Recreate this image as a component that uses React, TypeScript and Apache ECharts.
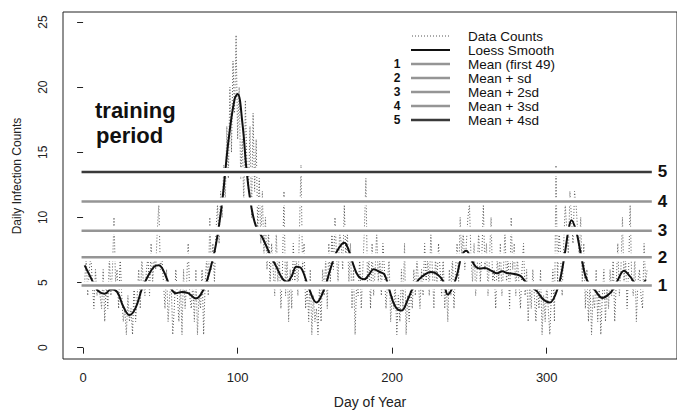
import React, { useEffect, useRef } from "react";
import * as echarts from "echarts";

const FONT = '"Liberation Sans", Arial, Helvetica, sans-serif';

// Daily infection counts, day 1 .. 365
const dailyCounts: number[] = [
  5, 7, 4, 6, 7, 5, 3, 6, 4, 5,
  4, 3, 6, 2, 5, 3, 7, 4, 6, 10,
  5, 6, 3, 7, 4, 2, 3, 1, 4, 2,
  3, 1, 5, 2, 4, 6, 3, 7, 5, 4,
  6, 7, 4, 8, 5, 7, 6, 9, 11, 6,
  7, 5, 3, 6, 2, 4, 5, 1, 3, 6,
  4, 2, 5, 1, 6, 3, 5, 8, 4, 3,
  5, 2, 6, 1, 4, 3, 6, 1, 5, 7,
  4, 10, 6, 8, 5, 9, 11, 8, 12, 10,
  14, 11, 17, 13, 20, 15, 22, 18, 24, 16,
  20, 13, 16, 11, 19, 14, 12, 17, 10, 18,
  12, 16, 9, 13, 8, 12, 7, 10, 6, 9,
  5, 8, 6, 4, 9, 5, 7, 3, 6, 12,
  4, 7, 2, 6, 3, 8, 5, 7, 4, 9,
  14, 6, 8, 3, 5, 2, 6, 1, 4, 2,
  3, 1, 5, 2, 6, 4, 7, 3, 8, 5,
  9, 6, 10, 7, 5, 9, 8, 6, 11, 7,
  9, 5, 8, 3, 6, 1, 5, 4, 7, 3,
  6, 9, 13, 5, 7, 3, 8, 4, 6, 9,
  5, 7, 4, 8, 6, 3, 5, 7, 2, 4,
  3, 5, 1, 4, 2, 6, 3, 8, 1, 4,
  2, 5, 3, 6, 4, 7, 5, 3, 6, 4,
  8, 5, 7, 4, 9, 6, 3, 7, 5, 8,
  6, 4, 7, 3, 5, 2, 6, 4, 7, 3,
  6, 8, 5, 10, 7, 9, 6, 8, 10, 11,
  7, 5, 8, 4, 6, 9, 5, 7, 11, 6,
  8, 4, 7, 10, 5, 6, 3, 7, 5, 8,
  4, 6, 9, 5, 7, 3, 10, 6, 8, 4,
  7, 5, 3, 6, 8, 4, 6, 2, 5, 3,
  6, 4, 2, 5, 3, 6, 1, 4, 2, 5,
  3, 1, 4, 6, 2, 14, 5, 9, 7, 4,
  8, 11, 9, 7, 12, 10, 8, 12, 11, 9,
  7, 10, 5, 8, 3, 6, 2, 5, 1, 4,
  3, 6, 2, 5, 1, 4, 6, 2, 5, 3,
  6, 4, 7, 2, 5, 8, 4, 6, 10, 5,
  7, 3, 6, 11, 5, 4, 7, 2, 5, 6,
  4, 3, 8, 5, 6,
];

// Loess smooth, read at selected days
const loessDays: number[] = [
  1, 4, 7, 10, 14, 18, 22, 26, 30, 34, 38, 42, 46, 49, 52, 56, 60, 64, 68, 73,
  78, 82, 86, 90, 94, 98, 100, 103, 106, 109, 112, 116, 121, 125, 129, 132, 135, 138, 141, 146,
  151, 156, 160, 164, 169, 172, 175, 178, 182, 185, 188, 192, 195, 198, 202, 206, 210, 213, 217, 221,
  225, 229, 233, 236, 239, 242, 245, 248, 251, 254, 257, 260, 264, 268, 271, 275, 279, 283, 286, 290,
  294, 298, 302, 306, 309, 312, 314, 316, 319, 322, 325, 328, 331, 336, 340, 343, 346, 350, 354, 358,
  361, 364,
];
const loessValues: number[] = [
  6.32, 5.61, 4.89, 4.33, 4.13, 4.49, 4.28, 3.16, 2.5, 3.06, 4.49, 5.51, 6.22, 6.32, 5.91, 4.79, 4.18, 4.28, 4.18, 3.77,
  4.49, 5.91, 7.95, 11.22, 15.81, 19.07, 19.48, 17.34, 13.36, 10.71, 9.28, 8.46, 7.14, 6.22, 5.3, 5.05, 5.51, 6.22, 6.12, 4.59,
  3.47, 4.49, 6.02, 7.34, 8.06, 7.44, 6.32, 5.51, 5.25, 5.61, 6.02, 5.81, 5.61, 4.49, 3.16, 2.85, 3.67, 4.49, 5.2, 5.61,
  5.81, 5.66, 5.1, 4.08, 4.59, 5.61, 7.04, 7.44, 6.83, 6.22, 6.07, 6.12, 5.91, 5.71, 5.86, 5.71, 5.66, 5.51, 5.1, 4.69,
  4.28, 3.67, 3.47, 4.18, 5.4, 7.44, 8.97, 9.79, 8.97, 7.24, 5.51, 4.79, 4.44, 3.82, 4.08, 4.49, 5.2, 5.91, 5.45, 4.9,
  4.89, 5.2,
];

// Threshold levels: mean of first 49 days, + 1..4 sd
const levelValues: number[] = [4.78, 6.95, 8.98, 11.23, 13.49];
const levelNumbers: string[] = ["1", "2", "3", "4", "5"];
const levelNames: string[] = ["Mean (first 49)", "Mean + sd", "Mean + 2sd", "Mean + 3sd", "Mean + 4sd"];
const levelStart = -1;
const levelEnd = 368;

const yTicks: number[] = [0, 5, 10, 15, 20, 25];
const xTicks: number[] = [0, 100, 200, 300];

export default function App() {
  const ref = useRef<HTMLDivElement>(null);

  useEffect(() => {
    document.body.style.margin = "0";
    const chart = echarts.init(ref.current!, null, { renderer: "svg" });

    const countPairs = dailyCounts.map((v, i) => [i + 1, v]);
    const loessPairs = loessDays.map((d, i) => [d, loessValues[i]]);

    const levelColor = (i: number) => (i === 4 ? "#3a3a3a" : "#959595");

    const haloSeries = levelValues.map((v) => ({
      type: "line",
      data: [[levelStart, v], [levelEnd, v]],
      showSymbol: false,
      silent: true,
      lineStyle: { color: "#ffffff", width: 8 },
      z: 3,
    }));
    const levelSeries = levelValues.map((v, i) => ({
      type: "line",
      name: levelNames[i],
      data: [[levelStart, v], [levelEnd, v]],
      showSymbol: false,
      silent: true,
      lineStyle: { color: levelColor(i), width: 2.5 },
      z: 4,
      endLabel: {
        show: true,
        formatter: levelNumbers[i],
        distance: 6,
        fontFamily: FONT,
        fontSize: 17,
        fontWeight: "bold",
        color: "#111",
      },
    }));

    const legendRows = ["Data Counts", "Loess Smooth", ...levelNames];
    const rowY = [36, 50, 64, 78, 92, 106, 120];
    const legendGraphics: any[] = [];
    legendRows.forEach((label, r) => {
      const y = rowY[r];
      legendGraphics.push({
        type: "text",
        x: 468,
        y,
        style: {
          text: label,
          font: `13.5px ${FONT}`,
          lineHeight: 13,
          fill: "#111",
          align: "left",
          verticalAlign: "middle",
        },
      });
      if (r === 0) {
        legendGraphics.push({
          type: "line",
          shape: { x1: 412, y1: y, x2: 449, y2: y },
          style: { stroke: "#555", lineWidth: 1, lineDash: [1, 2] },
        });
      } else if (r === 1) {
        legendGraphics.push({
          type: "line",
          shape: { x1: 411, y1: y, x2: 450, y2: y },
          style: { stroke: "#111", lineWidth: 2 },
        });
      } else {
        const i = r - 2;
        legendGraphics.push({
          type: "line",
          shape: { x1: 411, y1: y, x2: 450, y2: y },
          style: { stroke: levelColor(i), lineWidth: 2.5 },
        });
        legendGraphics.push({
          type: "text",
          x: 397,
          y,
          style: {
            text: levelNumbers[i],
            font: `bold 12px ${FONT}`,
            lineHeight: 12,
            fill: "#111",
            align: "center",
            verticalAlign: "middle",
          },
        });
      }
    });

    const option: any = {
      animation: false,
      backgroundColor: "#ffffff",
      grid: {
        left: 63,
        right: -3,
        top: 12,
        bottom: 53,
        show: true,
        borderColor: "#222",
        borderWidth: 1,
        backgroundColor: "transparent",
      },
      xAxis: {
        type: "value",
        min: -13,
        max: 384.3,
        name: "Day of Year",
        nameLocation: "middle",
        nameGap: 36,
        nameTextStyle: { fontFamily: FONT, fontSize: 14, color: "#222" },
        axisLine: { show: false },
        splitLine: { show: false },
        axisTick: { show: true, customValues: xTicks, length: 6, lineStyle: { color: "#222" } },
        axisLabel: { customValues: xTicks, margin: 12, fontFamily: FONT, fontSize: 13, color: "#222" },
      },
      yAxis: {
        type: "value",
        min: -0.87,
        max: 25.77,
        axisLine: { show: false },
        splitLine: { show: false },
        axisTick: { show: true, customValues: yTicks, length: 6, lineStyle: { color: "#222" } },
        axisLabel: {
          customValues: yTicks,
          rotate: 90,
          margin: 14,
          fontFamily: FONT,
          fontSize: 12,
          color: "#222",
        },
      },
      graphic: [
        {
          type: "text",
          x: 17,
          y: 176,
          rotation: Math.PI / 2,
          style: {
            text: "Daily Infection Counts",
            font: `12px ${FONT}`,
            fill: "#222",
            align: "center",
            verticalAlign: "middle",
          },
        },
        {
          type: "text",
          x: 95,
          y: 110.5,
          style: { text: "training", font: `bold 22px ${FONT}`, fill: "#111", align: "left", verticalAlign: "middle" },
        },
        {
          type: "text",
          x: 96,
          y: 135.5,
          style: { text: "period", font: `bold 22px ${FONT}`, fill: "#111", align: "left", verticalAlign: "middle" },
        },
        ...legendGraphics,
      ],
      series: [
        {
          type: "line",
          name: "Data Counts",
          data: countPairs,
          showSymbol: false,
          silent: true,
          lineStyle: { color: "#555", width: 1, type: [1, 2] },
          z: 1,
        },
        {
          type: "line",
          name: "Loess Smooth",
          data: loessPairs,
          smooth: 0.4,
          showSymbol: false,
          silent: true,
          lineStyle: { color: "#111", width: 2 },
          z: 2,
        },
        ...haloSeries,
        ...levelSeries,
      ],
    };

    chart.setOption(option);
    return () => chart.dispose();
  }, []);

  return <div ref={ref} style={{ width: 677, height: 414 }} />;
}
